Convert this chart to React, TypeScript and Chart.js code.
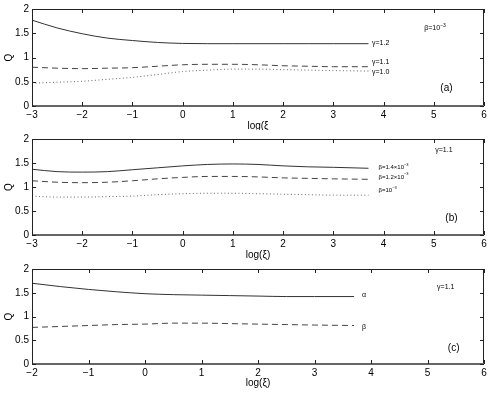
import React, { useEffect, useRef } from 'react';
import { Chart, registerables } from 'chart.js';
Chart.register(...registerables);

// Panel (a): beta = 1e-3, gamma varies
const xA = [-3, -2.5, -2, -1.5, -1, -0.5, 0, 0.5, 1, 1.5, 2, 2.5, 3, 3.7];
const aGamma12 = [1.77, 1.61, 1.49, 1.40, 1.35, 1.31, 1.29, 1.285, 1.285, 1.285, 1.285, 1.285, 1.285, 1.285];
const aGamma11 = [0.80, 0.78, 0.77, 0.78, 0.79, 0.82, 0.85, 0.86, 0.86, 0.85, 0.83, 0.82, 0.81, 0.81];
const aGamma10 = [0.47, 0.49, 0.51, 0.55, 0.59, 0.65, 0.71, 0.74, 0.76, 0.76, 0.75, 0.74, 0.73, 0.72];

// Panel (b): gamma = 1.1, beta varies
const xB = [-3, -2.5, -2, -1.5, -1, -0.5, 0, 0.5, 1, 1.5, 2, 2.5, 3, 3.7];
const bBeta14 = [1.37, 1.32, 1.31, 1.32, 1.36, 1.40, 1.44, 1.47, 1.48, 1.47, 1.44, 1.42, 1.41, 1.39];
const bBeta12 = [1.13, 1.10, 1.09, 1.10, 1.13, 1.17, 1.20, 1.22, 1.22, 1.21, 1.19, 1.18, 1.17, 1.16];
const bBeta10 = [0.81, 0.79, 0.79, 0.80, 0.81, 0.84, 0.86, 0.87, 0.87, 0.86, 0.85, 0.84, 0.83, 0.83];

// Panel (c): gamma = 1.1, alpha and beta
const xC = [-2, -1.5, -1, -0.5, 0, 0.5, 1, 1.5, 2, 2.5, 3, 3.7];
const cAlpha = [1.70, 1.63, 1.57, 1.52, 1.48, 1.46, 1.45, 1.44, 1.43, 1.42, 1.42, 1.42];
const cBeta = [0.77, 0.79, 0.81, 0.83, 0.84, 0.86, 0.86, 0.85, 0.84, 0.83, 0.82, 0.81];

const yTicks = [0, 0.5, 1, 1.5, 2];
const xTicksAB = [-3, -2, -1, 0, 1, 2, 3, 4, 5, 6];
const xTicksC = [-2, -1, 0, 1, 2, 3, 4, 5, 6];

const FONT = '"Liberation Sans", Arial, Helvetica, sans-serif';

type Note = { x: number; y: number; text: string; size: number };

function drawRich(ctx: CanvasRenderingContext2D, text: string, x: number, y: number, size: number) {
  const parts = text.split(/(\^\{[^}]*\})/).filter((p) => p.length);
  let cx = x;
  for (const p of parts) {
    if (p.startsWith('^{')) {
      const s = p.slice(2, -1);
      ctx.font = `${Math.round(size * 0.7)}px ${FONT}`;
      ctx.fillText(s, cx, y - size * 0.45);
      cx += ctx.measureText(s).width;
    } else {
      ctx.font = `${size}px ${FONT}`;
      ctx.fillText(p, cx, y);
      cx += ctx.measureText(p).width;
    }
  }
}

const framePlugin = {
  id: 'frame',
  afterDraw(chart: any, _args: any, opts: any) {
    const { ctx, chartArea: a, scales } = chart;
    const xs = scales.x;
    const ys = scales.y;
    ctx.save();
    ctx.strokeStyle = '#222';
    ctx.lineWidth = 1;
    ctx.beginPath();
    ctx.moveTo(a.left + 0.5, a.bottom);
    ctx.lineTo(a.left + 0.5, a.top + 0.5);
    ctx.lineTo(a.right - 0.5, a.top + 0.5);
    ctx.lineTo(a.right - 0.5, a.bottom);
    ctx.stroke();
    ctx.strokeStyle = '#666';
    ctx.lineWidth = 2;
    ctx.beginPath();
    ctx.moveTo(a.left, a.bottom);
    ctx.lineTo(a.right, a.bottom);
    ctx.stroke();
    ctx.strokeStyle = '#222';
    ctx.lineWidth = 1;
    const tl = 4;
    ctx.beginPath();
    for (const t of opts.xTicks) {
      const px = Math.round(xs.getPixelForValue(t)) + 0.5;
      ctx.moveTo(px, a.top);
      ctx.lineTo(px, a.top + tl);
      ctx.moveTo(px, a.bottom);
      ctx.lineTo(px, a.bottom - tl);
    }
    for (const t of yTicks) {
      const py = Math.round(ys.getPixelForValue(t)) + 0.5;
      ctx.moveTo(a.left, py);
      ctx.lineTo(a.left + tl, py);
      ctx.moveTo(a.right, py);
      ctx.lineTo(a.right - tl, py);
    }
    ctx.stroke();
    ctx.fillStyle = '#000';
    ctx.font = `10px ${FONT}`;
    ctx.textAlign = 'center';
    ctx.textBaseline = 'middle';
    ctx.fillText(opts.xTitle, (a.left + a.right) / 2, a.bottom + opts.xTitleOffset);
    ctx.save();
    ctx.translate(9, (a.top + a.bottom) / 2);
    ctx.rotate(-Math.PI / 2);
    ctx.fillText('Q', 0, 0);
    ctx.restore();
    ctx.textAlign = 'left';
    ctx.textBaseline = 'middle';
    for (const n of opts.notes as Note[]) {
      drawRich(ctx, n.text, xs.getPixelForValue(n.x), ys.getPixelForValue(n.y), n.size);
    }
    ctx.restore();
  },
};

function pts(xs: number[], ys: number[]) {
  return xs.map((x, i) => ({ x, y: ys[i] }));
}

function ds(data: any[], style: 'solid' | 'dash' | 'dot') {
  return {
    data,
    borderColor: style === 'solid' ? '#333' : style === 'dash' ? '#444' : '#666',
    borderWidth: 1,
    borderDash: style === 'solid' ? [] : style === 'dash' ? [6, 4] : [1, 2.5],
    pointRadius: 0,
    tension: 0.4,
    cubicInterpolationMode: 'monotone',
    fill: false,
  };
}

const minusFmt = (v: any) => {
  const n = Number(v);
  return n < 0 ? '\u2212' + String(-n) : String(n);
};

function makeConfig(datasets: any[], xMin: number, xTicks: number[], top: number, xHeight: number, frame: any) {
  return {
    type: 'line',
    data: { datasets },
    options: {
      animation: false,
      responsive: false,
      events: [],
      layout: { padding: { top, right: 7, left: 0, bottom: 0 } },
      plugins: { legend: { display: false }, tooltip: { enabled: false }, frame: { ...frame, xTicks } },
      scales: {
        x: {
          type: 'linear',
          min: xMin,
          max: 6,
          grid: { display: false, drawTicks: false },
          border: { display: false },
          ticks: {
            stepSize: 1,
            padding: 3,
            color: '#000',
            font: { size: 10, family: FONT },
            maxRotation: 0,
            callback: minusFmt,
          },
          afterFit: (s: any) => {
            s.height = xHeight;
          },
        },
        y: {
          min: 0,
          max: 2,
          grid: { display: false, drawTicks: false },
          border: { display: false },
          ticks: {
            stepSize: 0.5,
            padding: 3,
            color: '#000',
            font: { size: 10, family: FONT },
            callback: (v: any) => String(Number(v)),
          },
          afterFit: (s: any) => {
            s.width = 32;
          },
        },
      },
    },
    plugins: [framePlugin],
  };
}

export default function App() {
  const refA = useRef<HTMLCanvasElement>(null);
  const refB = useRef<HTMLCanvasElement>(null);
  const refC = useRef<HTMLCanvasElement>(null);

  useEffect(() => {
    const charts: Chart[] = [];
    charts.push(
      new Chart(
        refA.current as HTMLCanvasElement,
        makeConfig(
          [ds(pts(xA, aGamma12), 'solid'), ds(pts(xA, aGamma11), 'dash'), ds(pts(xA, aGamma10), 'dot')],
          -3,
          xTicksAB,
          9,
          24,
          {
            xTitle: 'log(ξ',
            xTitleOffset: 20,
            notes: [
              { x: 3.77, y: 1.3, text: 'γ=1.2', size: 7 },
              { x: 3.77, y: 0.91, text: 'γ=1.1', size: 7 },
              { x: 3.77, y: 0.7, text: 'γ=1.0', size: 7 },
              { x: 4.81, y: 1.6, text: 'β=10^{−3}', size: 7 },
              { x: 5.13, y: 0.36, text: '(a)', size: 10 },
            ],
          }
        ) as any
      )
    );
    charts.push(
      new Chart(
        refB.current as HTMLCanvasElement,
        makeConfig(
          [ds(pts(xB, bBeta14), 'solid'), ds(pts(xB, bBeta12), 'dash'), ds(pts(xB, bBeta10), 'dot')],
          -3,
          xTicksAB,
          9,
          25,
          {
            xTitle: 'log(ξ)',
            xTitleOffset: 20,
            notes: [
              { x: 3.9, y: 1.4, text: 'β=1.4×10^{−3}', size: 6 },
              { x: 3.9, y: 1.21, text: 'β=1.2×10^{−3}', size: 6 },
              { x: 3.9, y: 0.93, text: 'β=10^{−3}', size: 6 },
              { x: 5.03, y: 1.77, text: 'γ=1.1', size: 7 },
              { x: 5.23, y: 0.35, text: '(b)', size: 10 },
            ],
          }
        ) as any
      )
    );
    charts.push(
      new Chart(
        refC.current as HTMLCanvasElement,
        makeConfig(
          [ds(pts(xC, cAlpha), 'solid'), ds(pts(xC, cBeta), 'dash')],
          -2,
          xTicksC,
          7,
          29,
          {
            xTitle: 'log(ξ)',
            xTitleOffset: 19,
            notes: [
              { x: 3.84, y: 1.46, text: 'α', size: 7 },
              { x: 3.84, y: 0.78, text: 'β', size: 7 },
              { x: 5.17, y: 1.63, text: 'γ=1.1', size: 7 },
              { x: 5.36, y: 0.34, text: '(c)', size: 10 },
            ],
          }
        ) as any
      )
    );
    return () => charts.forEach((c) => c.destroy());
  }, []);

  const cv: React.CSSProperties = { position: 'absolute', left: 0, display: 'block' };
  return (
    <div style={{ position: 'absolute', left: 0, top: 0, width: 491, height: 393, background: '#fff' }}>
      <canvas ref={refA} width={491} height={130} style={{ ...cv, top: 0 }} />
      <canvas ref={refB} width={491} height={130} style={{ ...cv, top: 130 }} />
      <canvas ref={refC} width={491} height={133} style={{ ...cv, top: 260 }} />
    </div>
  );
}
